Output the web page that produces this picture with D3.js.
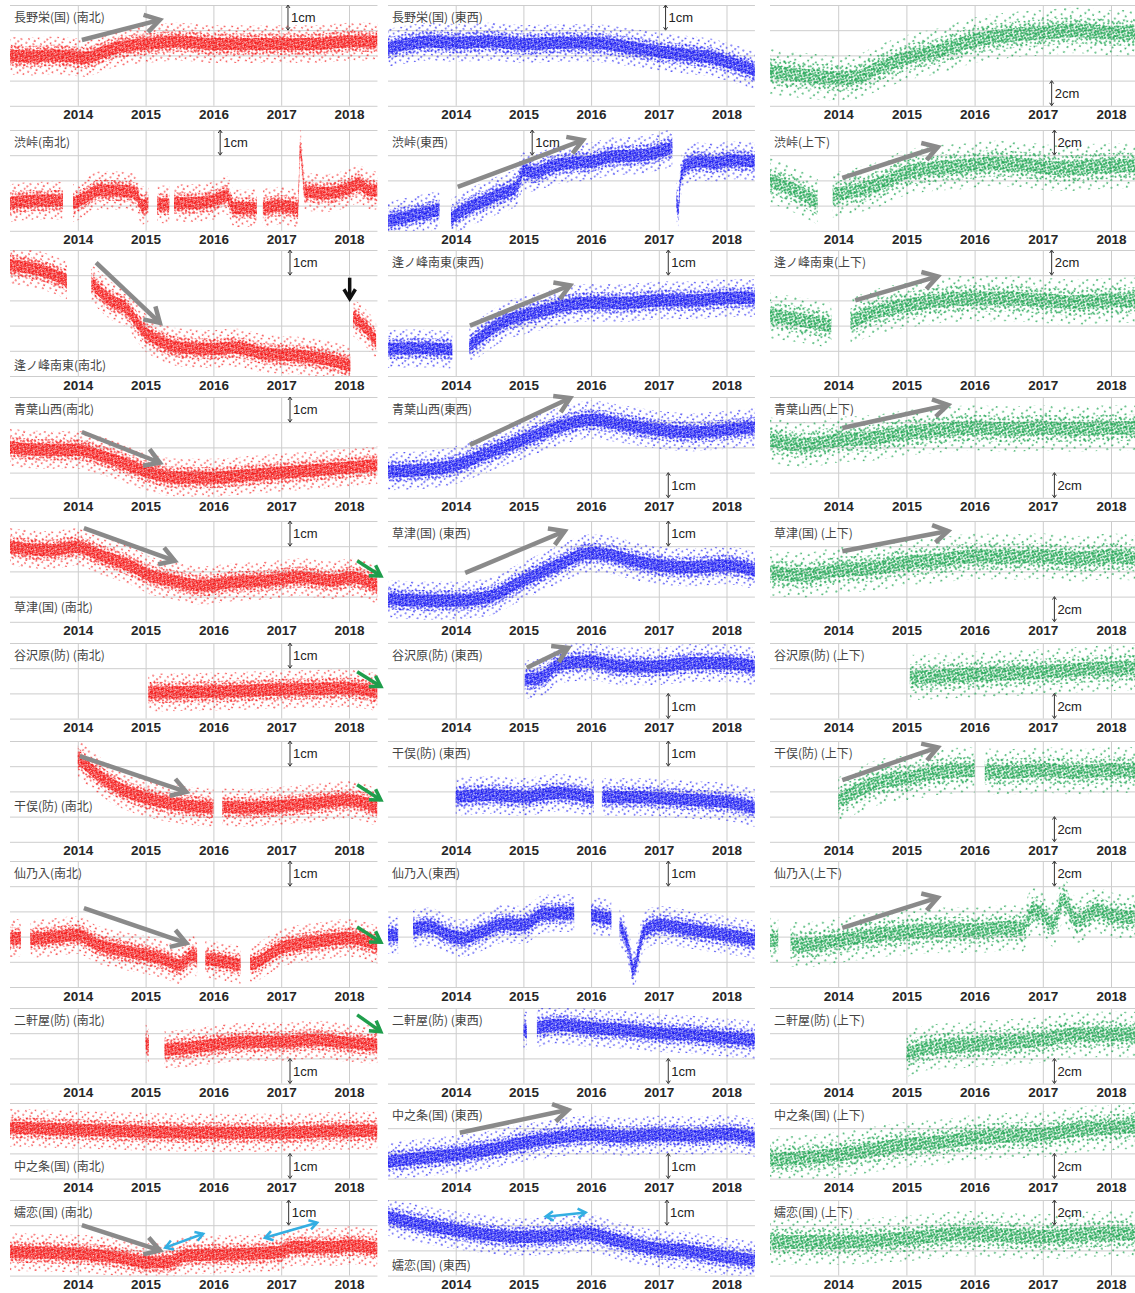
<!DOCTYPE html>
<html>
<head>
<meta charset="utf-8">
<script src="https://cdn.jsdelivr.net/npm/d3@7"></script>
<style>
  body { margin: 0; background: #fff; }
  svg { display: block; font-family: "Liberation Sans", Arial, sans-serif; }
  .title { font-family: "Noto Sans CJK JP", sans-serif; font-size: 12px; fill: #444; }
  .scale-label { font-size: 13px; fill: #222; }
</style>
</head>
<body>
<svg id="chart" width="1135" height="1293"></svg>
<script>
// ---- data: [decimal year, displacement cm above panel bottom], null = no data ----
const years = [2014, 2015, 2016, 2017, 2018]
const stations = ["長野栄(国)", "渋峠", "逢ノ峰南東", "青葉山西", "草津(国)", "谷沢原(防)",
                  "干俣(防)", "仙乃入", "二軒屋(防)", "中之条(国)", "嬬恋(国)"]
const components = ["南北", "東西", "上下"]

const sakaeNS = [[2013.0,2.0],[2013.3,1.95],[2013.6,2.0],[2013.9,1.95],[2014.1,1.9],[2014.3,2.05],[2014.5,2.25],[2014.8,2.4],[2015.0,2.45],[2015.5,2.55],[2016.0,2.45],[2016.5,2.45],[2017.0,2.45],[2017.5,2.45],[2018.0,2.55],[2018.42,2.55]]
const sakaeEW = [[2013.0,2.3],[2013.3,2.45],[2013.6,2.55],[2014.0,2.5],[2014.5,2.55],[2015.0,2.45],[2015.5,2.5],[2016.0,2.5],[2016.5,2.35],[2017.0,2.15],[2017.5,2.0],[2017.8,1.9],[2018.0,1.75],[2018.2,1.6],[2018.42,1.4]]
const sakaeUD = [[2013.0,2.7],[2013.5,2.4],[2014.0,2.2],[2014.3,2.3],[2014.5,2.8],[2015.0,3.8],[2015.5,4.4],[2016.0,5.2],[2016.5,5.6],[2017.0,5.8],[2017.5,6.0],[2018.0,5.8],[2018.42,5.8]]

const shibuNS = [[2013.0,1.1],[2013.4,1.2],[2013.78,1.2],[2013.8,null],[2013.93,1.1],[2014.1,1.3],[2014.3,1.6],[2014.6,1.6],[2014.85,1.5],[2014.95,1.0],[2015.04,1.1],[2015.06,null],[2015.17,1.05],[2015.35,1.05],[2015.37,null],[2015.42,1.1],[2015.7,1.1],[2016.0,1.2],[2016.2,1.4],[2016.3,0.9],[2016.64,0.9],[2016.66,null],[2016.73,0.9],[2017.0,1.0],[2017.25,0.9],[2017.28,3.3],[2017.31,2.6],[2017.35,1.55],[2017.7,1.5],[2018.0,1.7],[2018.15,1.85],[2018.3,1.6],[2018.42,1.6]]
const shibuEW = [[2013.0,0.4],[2013.4,0.63],[2013.76,0.83],[2013.8,null],[2013.93,0.5],[2014.2,0.95],[2014.4,1.15],[2014.65,1.45],[2014.9,1.75],[2015.0,2.4],[2015.15,2.3],[2015.4,2.55],[2015.7,2.7],[2016.0,2.75],[2016.3,2.95],[2016.75,3.0],[2017.0,3.15],[2017.2,3.3],[2017.22,null],[2017.26,1.2],[2017.29,0.9],[2017.32,2.0],[2017.38,2.55],[2017.6,2.75],[2017.85,2.7],[2018.05,2.8],[2018.42,2.75]]
const shibuUD = [[2013.0,4.0],[2013.35,3.25],[2013.7,2.3],[2013.75,null],[2013.92,2.85],[2014.3,3.25],[2014.7,3.9],[2014.95,4.55],[2015.4,4.95],[2015.8,5.1],[2016.3,5.35],[2016.75,5.2],[2017.3,4.95],[2017.77,5.1],[2018.42,5.2]]

const ainomineNS = [[2013.0,4.4],[2013.44,4.2],[2013.84,3.8],[2013.88,null],[2014.2,3.7],[2014.48,3.0],[2014.72,2.67],[2014.82,2.33],[2014.97,1.8],[2015.2,1.4],[2015.5,1.13],[2016.0,1.07],[2016.3,1.13],[2016.8,0.87],[2017.3,0.8],[2017.77,0.6],[2018.02,0.4],[2018.04,null],[2018.06,2.33],[2018.26,1.87],[2018.4,1.4]]
const ainomineEW = [[2013.0,1.08],[2013.4,1.1],[2013.95,1.05],[2013.97,null],[2014.2,1.2],[2014.5,1.8],[2014.75,2.2],[2015.0,2.4],[2015.3,2.6],[2015.6,2.8],[2016.0,2.9],[2016.5,2.9],[2017.0,3.0],[2017.5,3.0],[2018.0,3.1],[2018.42,3.1]]
const ainomineUD = [[2013.0,4.8],[2013.5,4.4],[2013.9,4.0],[2013.95,null],[2014.18,4.3],[2014.5,5.0],[2015.0,5.6],[2015.5,6.0],[2016.0,6.15],[2016.5,6.15],[2017.0,6.0],[2017.5,5.85],[2018.0,6.0],[2018.42,6.0]]

const aobaNS = [[2013.0,2.0],[2013.5,1.9],[2014.0,1.9],[2014.3,1.7],[2014.6,1.45],[2015.0,1.05],[2015.5,0.8],[2016.0,0.8],[2016.5,0.9],[2017.0,1.0],[2017.5,1.1],[2018.0,1.2],[2018.42,1.3]]
const aobaEW = [[2013.0,1.05],[2013.5,1.1],[2014.0,1.3],[2014.5,1.8],[2015.0,2.3],[2015.5,2.8],[2016.0,3.1],[2016.5,2.9],[2017.0,2.7],[2017.5,2.6],[2018.0,2.7],[2018.42,2.8]]
const aobaUD = [[2013.0,4.6],[2013.5,4.2],[2014.0,4.6],[2014.5,4.75],[2015.0,5.15],[2015.5,5.4],[2016.0,5.55],[2016.5,5.45],[2017.0,5.55],[2017.5,5.45],[2018.0,5.55],[2018.42,5.55]]

const kusatsuNS = [[2013.0,2.97],[2013.59,2.84],[2013.98,2.97],[2014.33,2.64],[2014.82,2.17],[2015.06,1.84],[2015.4,1.64],[2015.8,1.44],[2016.3,1.57],[2016.8,1.64],[2017.28,1.77],[2017.77,1.64],[2018.02,1.77],[2018.42,1.44]]
const kusatsuEW = [[2013.0,0.92],[2013.5,0.84],[2014.0,0.84],[2014.5,1.0],[2015.0,1.64],[2015.5,2.24],[2016.0,2.72],[2016.3,2.64],[2016.6,2.44],[2017.0,2.24],[2017.5,2.16],[2018.0,2.24],[2018.42,2.04]]
const kusatsuUD = [[2013.0,3.9],[2013.5,3.7],[2014.0,4.1],[2014.5,4.25],[2015.0,4.7],[2015.5,4.9],[2016.0,5.2],[2016.5,5.15],[2017.0,5.2],[2017.5,5.0],[2018.0,5.2],[2018.42,5.0]]

const yazawaraNS = [[2015.04,1.03],[2016.0,1.07],[2017.0,1.15],[2018.0,1.2],[2018.42,1.05]]
const yazawaraEW = [[2015.02,1.54],[2015.3,1.67],[2015.5,2.13],[2015.98,2.26],[2016.48,2.07],[2016.97,2.07],[2017.46,2.2],[2017.95,2.2],[2018.42,2.07]]
const yazawaraUD = [[2015.05,3.25],[2016.0,3.5],[2017.0,3.7],[2018.0,4.0],[2018.42,4.0]]

const hoshimataNS = [[2014.0,3.33],[2014.3,2.65],[2014.6,2.14],[2015.0,1.74],[2015.5,1.47],[2016.0,1.35],[2016.05,null],[2016.13,1.39],[2016.5,1.35],[2017.0,1.43],[2017.5,1.54],[2018.0,1.66],[2018.42,1.35]]
const hoshimataEW = [[2014.0,1.78],[2014.5,1.86],[2015.0,1.78],[2015.5,1.94],[2016.04,1.74],[2016.08,null],[2016.16,1.78],[2016.5,1.78],[2017.0,1.74],[2017.5,1.66],[2018.0,1.58],[2018.42,1.35]]
const hoshimataUD = [[2014.0,3.3],[2014.3,4.1],[2014.6,4.75],[2015.0,5.05],[2015.5,5.55],[2016.0,5.7],[2016.05,null],[2016.15,5.6],[2016.5,5.55],[2017.0,5.7],[2017.5,5.55],[2018.0,5.7],[2018.42,5.7]]

const sennoiriNS = [[2013.0,1.94],[2013.16,1.94],[2013.18,null],[2013.3,1.9],[2013.5,1.94],[2014.0,2.06],[2014.3,1.67],[2014.6,1.47],[2015.0,1.27],[2015.3,1.07],[2015.5,0.87],[2015.7,1.27],[2015.76,1.1],[2015.78,null],[2015.88,1.1],[2016.0,1.07],[2016.4,0.87],[2016.42,null],[2016.54,0.9],[2016.65,1.0],[2017.0,1.55],[2017.5,1.79],[2018.0,1.94],[2018.42,1.67]]
const sennoiriEW = [[2013.0,2.06],[2013.15,2.06],[2013.17,null],[2013.37,2.3],[2013.6,2.4],[2013.9,2.06],[2014.1,1.94],[2014.4,2.2],[2014.7,2.5],[2015.0,2.46],[2015.3,2.9],[2015.75,2.94],[2015.8,null],[2016.0,2.85],[2016.3,2.7],[2016.35,null],[2016.42,2.4],[2016.55,1.6],[2016.62,0.7],[2016.68,1.1],[2016.78,2.2],[2017.0,2.46],[2017.5,2.26],[2018.0,2.06],[2018.42,1.87]]
const sennoiriUD = [[2013.0,3.7],[2013.12,3.7],[2013.14,null],[2013.3,3.4],[2013.5,3.35],[2014.0,3.7],[2014.5,4.1],[2015.0,4.35],[2015.5,4.5],[2016.0,4.5],[2016.5,4.7],[2016.7,4.6],[2016.85,6.1],[2017.0,5.7],[2017.15,5.0],[2017.3,6.9],[2017.5,5.3],[2017.8,6.1],[2018.0,5.7],[2018.42,5.5]]

const nikenyaNS = [[2015.0,1.6],[2015.05,1.5],[2015.08,null],[2015.28,1.34],[2015.6,1.4],[2016.0,1.54],[2016.5,1.66],[2017.0,1.66],[2017.5,1.74],[2018.0,1.62],[2018.42,1.54]]
const nikenyaEW = [[2015.0,2.13],[2015.05,2.1],[2015.08,null],[2015.2,2.2],[2015.5,2.33],[2016.0,2.2],[2016.5,2.13],[2017.0,2.0],[2017.5,1.94],[2018.0,1.82],[2018.42,1.74]]
const nikenyaUD = [[2015.0,2.3],[2015.3,2.85],[2016.0,3.1],[2016.5,3.3],[2017.0,3.5],[2017.5,3.9],[2018.0,3.9],[2018.42,3.9]]

const nakanojoNS = [[2013.0,2.02],[2014.0,1.94],[2015.0,1.86],[2016.0,1.82],[2017.0,1.82],[2018.0,1.9],[2018.42,1.9]]
const nakanojoEW = [[2013.0,0.67],[2013.5,0.83],[2014.0,0.95],[2014.5,1.15],[2015.0,1.42],[2015.5,1.62],[2016.0,1.74],[2016.5,1.66],[2017.0,1.74],[2017.5,1.7],[2018.0,1.78],[2018.42,1.62]]
const nakanojoUD = [[2013.0,1.5],[2013.5,1.65],[2014.0,1.9],[2014.5,2.3],[2015.0,2.7],[2015.5,2.9],[2016.0,3.25],[2016.5,3.4],[2017.0,3.5],[2017.5,3.9],[2018.0,4.05],[2018.42,4.2]]

const tsumagoiNS = [[2013.0,0.93],[2013.98,0.87],[2014.57,0.73],[2015.06,0.53],[2015.31,0.53],[2015.6,0.8],[2016.0,0.83],[2016.5,0.87],[2016.97,0.93],[2017.17,1.13],[2017.77,1.13],[2018.0,1.2],[2018.42,1.07]]
const tsumagoiEW = [[2013.0,2.33],[2013.42,2.07],[2014.01,1.8],[2015.0,1.53],[2015.59,1.6],[2015.93,1.67],[2016.37,1.4],[2016.96,1.07],[2017.35,1.0],[2017.85,0.8],[2018.42,0.6]]
const tsumagoiUD = [[2013.0,2.67],[2013.98,2.67],[2014.96,2.93],[2015.94,3.33],[2016.92,3.07],[2017.95,3.33],[2018.42,3.33]]

const panelSeries = [
  [sakaeNS, sakaeEW, sakaeUD],
  [shibuNS, shibuEW, shibuUD],
  [ainomineNS, ainomineEW, ainomineUD],
  [aobaNS, aobaEW, aobaUD],
  [kusatsuNS, kusatsuEW, kusatsuUD],
  [yazawaraNS, yazawaraEW, yazawaraUD],
  [hoshimataNS, hoshimataEW, hoshimataUD],
  [sennoiriNS, sennoiriEW, sennoiriUD],
  [nikenyaNS, nikenyaEW, nikenyaUD],
  [nakanojoNS, nakanojoEW, nakanojoUD],
  [tsumagoiNS, tsumagoiEW, tsumagoiUD]
]

// ---- annotations, in panel data space: [row, col, t0, v0, t1, v1] ----
const trendArrows = [
  [0,0,2014.06,2.61,2015.21,3.41], [1,1,2014.03,1.74,2015.88,3.6], [1,2,2014.06,4.2,2015.46,6.65],
  [2,0,2014.27,4.5,2015.21,2.11], [2,1,2014.21,2.0,2015.69,3.6], [2,2,2014.25,6.0,2015.46,7.9],
  [3,0,2014.06,2.61,2015.21,1.39], [3,1,2014.21,2.1,2015.69,3.96], [3,2,2014.06,5.54,2015.61,7.37],
  [4,0,2014.09,3.72,2015.43,2.42], [4,1,2014.14,1.94,2015.61,3.6], [4,2,2014.06,5.6,2015.61,7.2],
  [5,1,2015.05,2.02,2015.66,2.81],
  [6,0,2014.03,3.4,2015.6,1.98], [6,2,2014.06,4.9,2015.46,7.5],
  [7,0,2014.09,3.13,2015.6,1.74], [7,2,2014.06,4.7,2015.46,7.1],
  [9,1,2014.06,1.82,2015.66,2.73],
  [10,0,2014.06,2.0,2015.21,1.0]
]
const greenArrows = [
  [4,0,2018.12,2.42,2018.47,1.82], [5,0,2018.12,1.86,2018.47,1.27], [6,0,2018.12,2.26,2018.47,1.66],
  [7,0,2018.12,2.38,2018.47,1.78], [8,0,2018.12,2.73,2018.47,2.06]
]
const blackArrows = [[2,0,2018.01,3.9,2018.01,3.07]]
const cyanArrows = [[10,0,2015.29,1.11,2015.85,1.66], [10,0,2016.76,1.5,2017.53,2.1], [10,1,2015.33,2.34,2015.92,2.5]]

// scale bars: [row, col, year position, "top" | "bottom"]
const scaleBars = [
  [0,0,2017.1,"top"],[0,1,2017.1,"top"],[0,2,2017.13,"bottom"],
  [1,0,2016.1,"top"],[1,1,2015.13,"top"],[1,2,2017.17,"top"],
  [2,0,2017.13,"top"],[2,1,2017.14,"top"],[2,2,2017.13,"top"],
  [3,0,2017.13,"top"],[3,1,2017.14,"bottom"],[3,2,2017.17,"bottom"],
  [4,0,2017.13,"top"],[4,1,2017.14,"top"],[4,2,2017.17,"bottom"],
  [5,0,2017.13,"top"],[5,1,2017.14,"bottom"],[5,2,2017.17,"bottom"],
  [6,0,2017.13,"top"],[6,1,2017.14,"top"],[6,2,2017.17,"bottom"],
  [7,0,2017.13,"top"],[7,1,2017.14,"top"],[7,2,2017.17,"top"],
  [8,0,2017.13,"bottom"],[8,1,2017.14,"bottom"],[8,2,2017.17,"bottom"],
  [9,0,2017.13,"bottom"],[9,1,2017.14,"bottom"],[9,2,2017.17,"bottom"],
  [10,0,2017.11,"top"],[10,1,2017.12,"top"],[10,2,2017.17,"top"]
]
// title placed lower than the default top-left spot: [row, col, grid lines above bottom]
const titleLow = [[2,0,0.4],[4,0,0.55],[6,0,1.39],[9,0,0.48],[10,1,0.4]]
const noTitle = [[0,2]]

// ---- layout ----
const GRID = 25.2
const timeDomain = [2013.0, 2018.42]
const cols = [
  { x0: 10, ppy: 67.8, unit: 1, color: "#f51010", label: "1cm" },
  { x0: 388, ppy: 67.7, unit: 1, color: "#1414f2", label: "1cm" },
  { x0: 770, ppy: 68.2, unit: 2, color: "#22a655", label: "2cm" }
]
const rows = [
  { top: 5, n: 4 }, { top: 130, n: 4 }, { top: 250, n: 5 }, { top: 397, n: 4 },
  { top: 521, n: 4 }, { top: 643, n: 3 }, { top: 741, n: 4 }, { top: 861, n: 5 },
  { top: 1008, n: 3 }, { top: 1103, n: 3 }, { top: 1200, n: 3 }
]
// scatter cloud drawn as nested bands, each filled with a speckle pattern
const levels = [
  { name: "outer", hw: [0.75, 0.75, 1.8], tile: 13, r: 0.85, rot: 23,
    dots: [[2,3],[9,1.5],[5.5,8],[11.5,7],[3,11.5],[9,11.2],[7,4.8]] },
  { name: "mid", hw: [0.42, 0.42, 1.05], tile: 8, r: 0.9, rot: -31,
    dots: [[1,1.5],[5,0.8],[3,4.2],[6.8,4.6],[1.5,6.5],[4.8,7.2],[7.3,1.9]] },
  { name: "core", hw: [0.24, 0.24, 0.55], tile: 5, r: 0.95, rot: 14,
    dots: [[0.8,0.9],[3.2,0.4],[2.0,2.6],[4.4,2.2],[0.6,3.8],[3.4,4.3],[4.6,4.6]] }
]

const svg = d3.select("#chart")
const defs = svg.append("defs")

cols.forEach((col, ci) => {
  levels.forEach(lv => {
    const k = ci === 2 ? 1.3 : 1
    const p = defs.append("pattern")
      .attr("id", `pat-${ci}-${lv.name}`)
      .attr("patternUnits", "userSpaceOnUse")
      .attr("patternTransform", `rotate(${lv.rot})`)
      .attr("width", lv.tile * k).attr("height", lv.tile * k)
    p.selectAll("circle").data(lv.dots).enter().append("circle")
      .attr("cx", d => d[0] * k).attr("cy", d => d[1] * k)
      .attr("r", lv.r * (ci === 2 ? 1.1 : 1))
      .attr("fill", col.color)
      .attr("opacity", 0.92)
  })
})

const scales = []

panelSeries.forEach((rowData, ri) => {
  scales[ri] = []
  rowData.forEach((data, ci) => {
    const col = cols[ci], row = rows[ri]
    const h = row.n * GRID
    const x = d3.scaleLinear().domain(timeDomain)
      .range([col.x0, col.x0 + (timeDomain[1] - timeDomain[0]) * col.ppy])
    const y = d3.scaleLinear().domain([0, row.n * col.unit]).range([row.top + h, row.top])
    scales[ri][ci] = { x, y }
    const w = x.range()[1] - x.range()[0]

    const g = svg.append("g")

    // horizontal gridlines
    g.append("g")
      .attr("transform", `translate(${col.x0},0)`)
      .call(d3.axisLeft(y).tickValues(d3.range(row.n + 1).map(k => k * col.unit))
        .tickSize(-w).tickFormat(""))
      .call(a => a.select(".domain").remove())
      .call(a => a.selectAll("line").attr("stroke", "#cdcdcd"))

    // year gridlines + labels
    g.append("g")
      .attr("transform", `translate(0,${row.top + h})`)
      .call(d3.axisBottom(x).tickValues(years).tickSize(-h).tickPadding(4).tickFormat(d3.format("d")))
      .call(a => a.select(".domain").remove())
      .call(a => a.selectAll("line").attr("stroke", "#cdcdcd"))
      .call(a => a.selectAll("text")
        .attr("font-family", "Liberation Sans, Arial, sans-serif")
        .attr("font-size", 13.5).attr("font-weight", "bold").attr("fill", "#262626"))

    const clipId = `clip-${ri}-${ci}`
    defs.append("clipPath").attr("id", clipId).append("rect")
      .attr("x", col.x0).attr("y", row.top).attr("width", w).attr("height", h)

    levels.forEach(lv => {
      const hw = lv.hw[ci]
      const area = d3.area()
        .defined(d => d[1] != null)
        .x(d => x(d[0]))
        .y0(d => y(d[1] - hw))
        .y1(d => y(d[1] + hw))
        .curve(d3.curveMonotoneX)
      g.append("path").datum(data)
        .attr("d", area)
        .attr("fill", `url(#pat-${ci}-${lv.name})`)
        .attr("clip-path", `url(#${clipId})`)
    })

    // title
    if (!noTitle.some(d => d[0] === ri && d[1] === ci)) {
      const low = titleLow.find(d => d[0] === ri && d[1] === ci)
      const gy = low ? low[2] : row.n - 0.5
      const name = stations[ri]
      const txt = name + (name.endsWith(")") ? " " : "") + "(" + components[ci] + ")"
      g.append("text").attr("class", "title")
        .attr("x", col.x0 + 4)
        .attr("y", row.top + h - gy * GRID)
        .attr("dy", "0.35em")
        .text(txt)
    }
  })
})

const ann = svg.append("g")

// scale bars
scaleBars.forEach(([ri, ci, t, pos]) => {
  const { x, y } = scales[ri][ci]
  const col = cols[ci], row = rows[ri]
  const vTop = pos === "top" ? row.n * col.unit : col.unit
  const xp = x(t), y1 = y(vTop), y2 = y(vTop - col.unit)
  ann.append("line").attr("x1", xp).attr("x2", xp).attr("y1", y1 + 1).attr("y2", y2 - 1)
    .attr("stroke", "#333").attr("stroke-width", 1)
  ;[[y1, 1], [y2, -1]].forEach(([yy, s]) => {
    ann.append("path")
      .attr("d", `M${xp - 2},${yy + 3 * s}L${xp},${yy}L${xp + 2},${yy + 3 * s}`)
      .attr("fill", "none").attr("stroke", "#333").attr("stroke-width", 1)
  })
  ann.append("text").attr("class", "scale-label")
    .attr("x", xp + 3).attr("y", (y1 + y2) / 2).attr("dy", "0.35em")
    .text(col.label)
})

function drawArrow(list, color, width, headLen, double) {
  list.forEach(([ri, ci, t0, v0, t1, v1]) => {
    const { x, y } = scales[ri][ci]
    const x1 = x(t0), y1 = y(v0), x2 = x(t1), y2 = y(v1)
    ann.append("line").attr("x1", x1).attr("y1", y1).attr("x2", x2).attr("y2", y2)
      .attr("stroke", color).attr("stroke-width", width)
    const head = (hx, hy, ang) => {
      const a = 0.55
      ann.append("path")
        .attr("d", `M${hx - headLen * Math.cos(ang - a)},${hy - headLen * Math.sin(ang - a)}` +
                   `L${hx},${hy}` +
                   `L${hx - headLen * Math.cos(ang + a)},${hy - headLen * Math.sin(ang + a)}`)
        .attr("fill", "none").attr("stroke", color).attr("stroke-width", width)
        .attr("stroke-linejoin", "miter")
    }
    const ang = Math.atan2(y2 - y1, x2 - x1)
    head(x2, y2, ang)
    if (double) head(x1, y1, ang + Math.PI)
  })
}

drawArrow(trendArrows, "#8a8a8a", 4.5, 17, false)
drawArrow(greenArrows, "#1f9e4c", 3.5, 12, false)
drawArrow(blackArrows, "#111", 3.5, 11, false)
drawArrow(cyanArrows, "#33aee2", 2.5, 9, true)
</script>
</body>
</html>
